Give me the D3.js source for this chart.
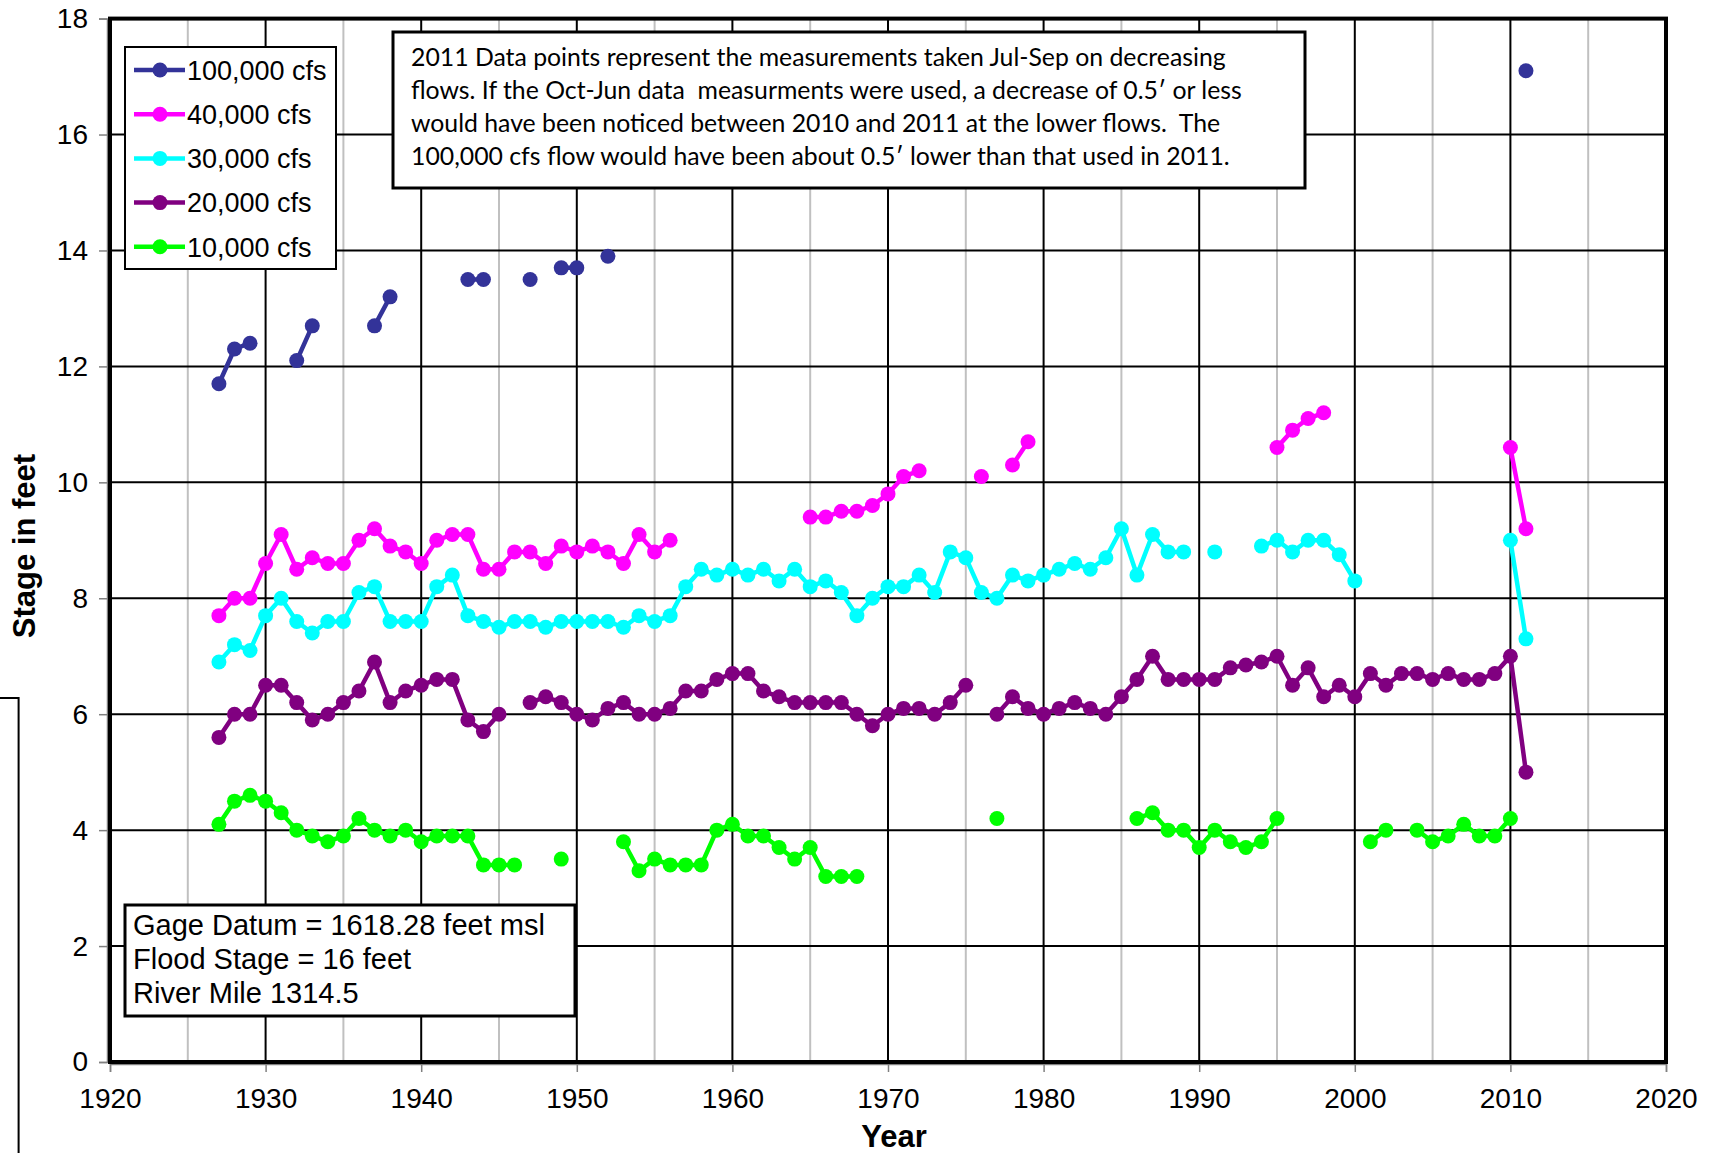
<!DOCTYPE html>
<html>
<head>
<meta charset="utf-8">
<script src="https://cdn.jsdelivr.net/npm/d3@7"></script>
<style>
  body { margin: 0; background: #fff; }
  svg { display: block; }
  text { font-family: "Liberation Sans", Arial, sans-serif; fill: #000; }
  .note text { font-family: Lato, "Open Sans", sans-serif; white-space: pre; }
</style>
</head>
<body>
<script>
// Stage-discharge history, one value per year (null = no measurement)
var years = d3.range(1927, 2012);

var flow100k = [
  11.7, 12.3, 12.4, null, null, 12.1, 12.7, null, null, null,
  12.7, 13.2, null, null, null, null, 13.5, 13.5, null, null,
  13.5, null, 13.7, 13.7, null, 13.9, null, null, null, null,
  null, null, null, null, null, null, null, null, null, null,
  null, null, null, null, null, null, null, null, null, null,
  null, null, null, null, null, null, null, null, null, null,
  null, null, null, null, null, null, null, null, null, null,
  null, null, null, null, null, null, null, null, null, null,
  null, null, null, null, 17.1
];
var flow40k = [
  7.7, 8.0, 8.0, 8.6, 9.1, 8.5, 8.7, 8.6, 8.6, 9.0,
  9.2, 8.9, 8.8, 8.6, 9.0, 9.1, 9.1, 8.5, 8.5, 8.8,
  8.8, 8.6, 8.9, 8.8, 8.9, 8.8, 8.6, 9.1, 8.8, 9.0,
  null, null, null, null, null, null, null, null, 9.4, 9.4,
  9.5, 9.5, 9.6, 9.8, 10.1, 10.2, null, null, null, 10.1,
  null, 10.3, 10.7, null, null, null, null, null, null, null,
  null, null, null, null, null, null, null, null, 10.6, 10.9,
  11.1, 11.2, null, null, null, null, null, null, null, null,
  null, null, null, 10.6, 9.2
];
var flow30k = [
  6.9, 7.2, 7.1, 7.7, 8.0, 7.6, 7.4, 7.6, 7.6, 8.1,
  8.2, 7.6, 7.6, 7.6, 8.2, 8.4, 7.7, 7.6, 7.5, 7.6,
  7.6, 7.5, 7.6, 7.6, 7.6, 7.6, 7.5, 7.7, 7.6, 7.7,
  8.2, 8.5, 8.4, 8.5, 8.4, 8.5, 8.3, 8.5, 8.2, 8.3,
  8.1, 7.7, 8.0, 8.2, 8.2, 8.4, 8.1, 8.8, 8.7, 8.1,
  8.0, 8.4, 8.3, 8.4, 8.5, 8.6, 8.5, 8.7, 9.2, 8.4,
  9.1, 8.8, 8.8, null, 8.8, null, null, 8.9, 9.0, 8.8,
  9.0, 9.0, 8.75, 8.3, null, null, null, null, null, null,
  null, null, null, 9.0, 7.3
];
var flow20k = [
  5.6, 6.0, 6.0, 6.5, 6.5, 6.2, 5.9, 6.0, 6.2, 6.4,
  6.9, 6.2, 6.4, 6.5, 6.6, 6.6, 5.9, 5.7, 6.0, null,
  6.2, 6.3, 6.2, 6.0, 5.9, 6.1, 6.2, 6.0, 6.0, 6.1,
  6.4, 6.4, 6.6, 6.7, 6.7, 6.4, 6.3, 6.2, 6.2, 6.2,
  6.2, 6.0, 5.8, 6.0, 6.1, 6.1, 6.0, 6.2, 6.5, null,
  6.0, 6.3, 6.1, 6.0, 6.1, 6.2, 6.1, 6.0, 6.3, 6.6,
  7.0, 6.6, 6.6, 6.6, 6.6, 6.8, 6.85, 6.9, 7.0, 6.5,
  6.8, 6.3, 6.5, 6.3, 6.7, 6.5, 6.7, 6.7, 6.6, 6.7,
  6.6, 6.6, 6.7, 7.0, 5.0
];
var flow10k = [
  4.1, 4.5, 4.6, 4.5, 4.3, 4.0, 3.9, 3.8, 3.9, 4.2,
  4.0, 3.9, 4.0, 3.8, 3.9, 3.9, 3.9, 3.4, 3.4, 3.4,
  null, null, 3.5, null, null, null, 3.8, 3.3, 3.5, 3.4,
  3.4, 3.4, 4.0, 4.1, 3.9, 3.9, 3.7, 3.5, 3.7, 3.2,
  3.2, 3.2, null, null, null, null, null, null, null, null,
  4.2, null, null, null, null, null, null, null, null, 4.2,
  4.3, 4.0, 4.0, 3.7, 4.0, 3.8, 3.7, 3.8, 4.2, null,
  null, null, null, null, 3.8, 4.0, null, 4.0, 3.8, 3.9,
  4.1, 3.9, 3.9, 4.2, null
];

var seriesNames = ['100,000 cfs', '40,000 cfs', '30,000 cfs', '20,000 cfs', '10,000 cfs'];
var seriesColors = ['#333399', '#ff00ff', '#00ffff', '#800080', '#00ff00'];
var seriesValues = [flow100k, flow40k, flow30k, flow20k, flow10k];

var yTicks = [0, 2, 4, 6, 8, 10, 12, 14, 16, 18];
var xTicks = [1920, 1930, 1940, 1950, 1960, 1970, 1980, 1990, 2000, 2010, 2020];
var xMinorTicks = [1925, 1935, 1945, 1955, 1965, 1975, 1985, 1995, 2005, 2015];

var noteLines = [
  '2011 Data points represent the measurements taken Jul-Sep on decreasing',
  'flows. If the Oct-Jun data  measurments were used, a decrease of 0.5\u2032 or less',
  'would have been noticed between 2010 and 2011 at the lower flows.  The',
  '100,000 cfs flow would have been about 0.5\u2032 lower than that used in 2011.'
];
var infoLines = ['Gage Datum = 1618.28 feet msl', 'Flood Stage = 16 feet', 'River Mile 1314.5'];

//Size Globals:
var W = 1720, H = 1153;
var plotL = 110, plotR = 1666, plotT = 18.6, plotB = 1062;

var svg = d3.select('body').append('svg')
    .attr('width', W)
    .attr('height', H);

var x = d3.scaleLinear().domain([1920, 2020]).range([plotL, plotR]);
var y = d3.scaleLinear().domain([0, 18]).range([plotB, plotT]);

//Grid
var grid = svg.append('g');
grid.selectAll('line.minor').data(xMinorTicks).enter().append('line')
    .attr('x1', x).attr('x2', x).attr('y1', plotT).attr('y2', plotB)
    .attr('stroke', '#c0c0c0').attr('stroke-width', 2);
grid.selectAll('line.major').data(xTicks).enter().append('line')
    .attr('x1', x).attr('x2', x).attr('y1', plotT).attr('y2', plotB)
    .attr('stroke', '#000').attr('stroke-width', 2);
grid.selectAll('line.h').data(yTicks).enter().append('line')
    .attr('x1', plotL).attr('x2', plotR).attr('y1', y).attr('y2', y)
    .attr('stroke', '#000').attr('stroke-width', 2);

//Axes
var yAxis = svg.append('g')
    .attr('transform', 'translate(' + (plotL - 3) + ',0)')
    .call(d3.axisLeft(y).tickValues(yTicks).tickSize(8).tickPadding(11));
var xAxis = svg.append('g')
    .attr('transform', 'translate(0,' + (plotB + 2) + ')')
    .call(d3.axisBottom(x).tickValues(xTicks).tickFormat(d3.format('d')).tickSize(8).tickPadding(12));
[yAxis, xAxis].forEach(function(a){
    a.select('.domain').attr('stroke', '#808080').attr('stroke-width', 1.5);
    a.selectAll('.tick line').attr('stroke', '#808080').attr('stroke-width', 1.5);
    a.selectAll('.tick text').attr('font-size', 28).attr('font-family', '"Liberation Sans", Arial, sans-serif').attr('fill', '#000');
});
xAxis.selectAll('.tick text').attr('dy', '0.85em');

//Plot frame
svg.append('rect')
    .attr('x', plotL).attr('y', plotT)
    .attr('width', plotR - plotL).attr('height', plotB - plotT)
    .attr('fill', 'none').attr('stroke', '#000').attr('stroke-width', 4);

//Series
var line = d3.line()
    .defined(function(d){ return d[1] != null; })
    .x(function(d){ return x(d[0]); })
    .y(function(d){ return y(d[1]); });

seriesValues.forEach(function(vals, i){
    var pts = years.map(function(yr, j){ return [yr, vals[j]]; });
    var g = svg.append('g');
    g.append('path').datum(pts)
        .attr('d', line)
        .attr('fill', 'none')
        .attr('stroke', seriesColors[i])
        .attr('stroke-width', 4.5);
    g.selectAll('circle').data(pts.filter(function(p){ return p[1] != null; }))
        .enter().append('circle')
        .attr('cx', function(d){ return x(d[0]); })
        .attr('cy', function(d){ return y(d[1]); })
        .attr('r', 7.5)
        .attr('fill', seriesColors[i]);
});

//Legend
var legend = svg.append('g');
legend.append('rect')
    .attr('x', 125).attr('y', 47).attr('width', 211).attr('height', 222)
    .attr('fill', '#fff').attr('stroke', '#000').attr('stroke-width', 2);
seriesNames.forEach(function(name, i){
    var ly = 70 + i * 44.2;
    legend.append('line')
        .attr('x1', 134).attr('x2', 185).attr('y1', ly).attr('y2', ly)
        .attr('stroke', seriesColors[i]).attr('stroke-width', 4.5);
    legend.append('circle')
        .attr('cx', 160).attr('cy', ly).attr('r', 7.5).attr('fill', seriesColors[i]);
    legend.append('text')
        .attr('x', 187).attr('y', ly).attr('dy', '0.36em')
        .attr('font-size', 27).text(name);
});

//Note box
var note = svg.append('g').attr('class', 'note');
note.append('rect')
    .attr('x', 393).attr('y', 32).attr('width', 912).attr('height', 156)
    .attr('fill', '#fff').attr('stroke', '#000').attr('stroke-width', 3);
noteLines.forEach(function(t, i){
    note.append('text')
        .attr('x', 411).attr('y', 57 + i * 33).attr('dy', '0.35em')
        .attr('font-size', 24.8).text(t);
});

//Info box
var info = svg.append('g');
info.append('rect')
    .attr('x', 125).attr('y', 905).attr('width', 450).attr('height', 111)
    .attr('fill', '#fff').attr('stroke', '#000').attr('stroke-width', 3);
infoLines.forEach(function(t, i){
    info.append('text')
        .attr('x', 133).attr('y', 925 + i * 34).attr('dy', '0.36em')
        .attr('font-size', 29).text(t);
});

//Axis titles
svg.append('text')
    .attr('x', (plotL + plotR) / 2 + 6).attr('y', 1147)
    .attr('text-anchor', 'middle')
    .attr('font-size', 31).attr('font-weight', 'bold')
    .text('Year');
svg.append('text')
    .attr('transform', 'translate(35,546) rotate(-90)')
    .attr('text-anchor', 'middle')
    .attr('font-size', 31).attr('font-weight', 'bold')
    .text('Stage in feet');

//Stray outline at left edge
svg.append('path')
    .attr('d', 'M0,698 H18.6 V' + H)
    .attr('fill', 'none').attr('stroke', '#000').attr('stroke-width', 2);
</script>
</body>
</html>
